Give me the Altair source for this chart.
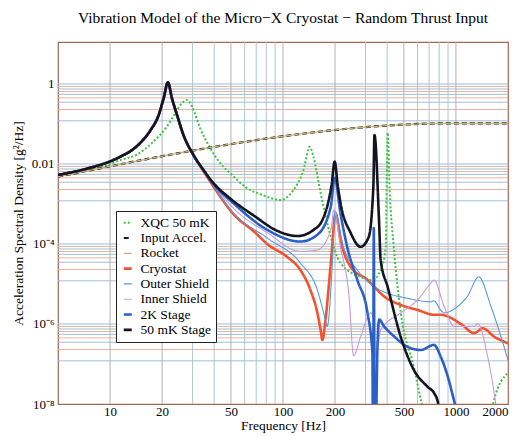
import altair as alt
import pandas as pd

# ---- series (frequency in Hz, acceleration spectral density in g^2/Hz) ----
series_names = ["XQC 50 mK", "Input Accel.", "Rocket", "Cryostat",
                "Outer Shield", "Inner Shield", "2K Stage", "50 mK Stage"]
series_colors = ["#3cc43c", "#151515", "#c4b47a", "#f2522e",
                 "#5a98d8", "#c79ade", "#2b5fc8", "#141420"]
series_dash = [[2, 2], [5, 3], [1, 0], [1, 0], [1, 0], [1, 0], [1, 0], [1, 0]]
series_width = [2.0, 2.2, 1.3, 2.6, 1.1, 1.1, 2.6, 2.6]

input_f = [5, 1000, 2000]
input_v = [0.0048, 0.104, 0.104]

rocket_f = [5, 1000, 2000]
rocket_v = [0.0048, 0.104, 0.104]

xqc_f = [5, 7.5, 10, 11.4, 14.3, 17.8, 21.3, 23.8, 26.0, 27.8, 29.8, 33.2, 38.0,
         43.4, 49.6, 60.6, 76.0, 96.7, 115, 131.5, 142.6, 150, 165, 189, 201.5,
         215, 281, 330, 367, 393, 398, 403, 414, 437, 480, 571, 627, 716, 1530,
         1661, 2000]
xqc_v = [0.0049, 0.0071, 0.0101, 0.0124, 0.0172, 0.0361, 0.0856, 0.185, 0.329,
         0.398, 0.271, 0.078, 0.0247, 0.0104, 0.00585, 0.00266, 0.00168, 0.00126,
         0.00224, 0.0071, 0.027, 0.0152, 0.00188, 1.5e-4, 6.0e-5, 3.35e-5, 1.5e-5,
         1.26e-5, 2.24e-5, 8.4e-5, 0.004, 0.06, 0.0022, 8.4e-5, 1.9e-6, 8.4e-8,
         1.26e-8, 1.3e-9, 2e-9, 1.26e-8, 6.0e-8]

cryo_f = [5, 7.46, 10, 11.4, 14.3, 17.1, 19.1, 20.4, 21.6, 22.8, 24.4, 26.6, 30.4,
          34.7, 39.7, 51.9, 69.3, 81, 106, 126, 144, 158, 165, 169, 176, 189, 201.5,
          215, 246, 308, 336, 384, 480, 600, 750, 818, 1069, 1276, 1428, 1666, 2000]
cryo_v = [0.0053, 0.0078, 0.0116, 0.015, 0.028, 0.069, 0.167, 0.435, 1.08, 0.435,
          0.165, 0.052, 0.0163, 0.0066, 0.0027, 5.5e-4, 1.9e-4, 1.0e-4, 4.7e-5,
          2.24e-5, 7.1e-6, 1.9e-6, 7.1e-7, 4.0e-7, 1.26e-6, 3.3e-5, 5.8e-4, 1.26e-4,
          2.7e-5, 1.26e-5, 8.6e-6, 4.9e-6, 3.0e-6, 2.24e-6, 1.7e-6, 1.7e-6, 1.0e-6,
          5.9e-7, 7.8e-7, 4.8e-7, 3.3e-7]

outer_f = [5, 7.46, 10, 11.4, 14.3, 17.1, 19.1, 20.4, 21.6, 22.8, 24.4, 26.6, 30.4,
           34.7, 39.7, 51.6, 81.3, 126, 158, 176, 180, 193, 200, 224, 269, 336, 401,
           523, 716, 746, 818, 856, 1018, 1165, 1354, 1596, 2000]
outer_v = [0.0053, 0.0078, 0.0116, 0.015, 0.028, 0.069, 0.167, 0.435, 1.08, 0.435,
           0.165, 0.052, 0.0164, 0.0067, 0.0028, 6.0e-4, 1.4e-4, 3.35e-5, 7.1e-6,
           1.26e-6, 8.7e-7, 3.3e-5, 6.5e-4, 8.4e-5, 2.24e-5, 8.6e-6, 5.9e-6, 4.4e-6,
           3.6e-6, 3.8e-6, 2.2e-6, 1.9e-6, 2.7e-6, 4.9e-6, 1.5e-5, 2.7e-6, 1.26e-7]

inner_f = [5, 7.46, 10, 11.4, 14.3, 17.1, 19.1, 20.4, 21.6, 22.8, 24.4, 26.6, 30.4,
           34.7, 39.7, 51.6, 81.3, 126, 158, 189, 197, 215, 241, 256, 281, 322, 333,
           344, 367, 480, 600, 716, 746, 856, 977, 1276, 1335, 1527, 1666, 1760]
inner_v = [0.0053, 0.0078, 0.0116, 0.015, 0.028, 0.069, 0.167, 0.435, 1.08, 0.435,
           0.165, 0.052, 0.0165, 0.0068, 0.003, 7.9e-4, 1.9e-4, 6.5e-5, 7.1e-5,
           2.24e-4, 7.1e-4, 8.5e-5, 4.9e-6, 1.6e-7, 4.8e-7, 1.9e-6, 1.4e-6, 1.5e-7,
           7.1e-7, 1.9e-6, 4.0e-6, 1.05e-5, 1.26e-5, 2.7e-6, 8.7e-7, 8.7e-7, 1.03e-6,
           1.5e-7, 1.8e-8, 3e-9]

k2_f = [5, 7.46, 10, 11.4, 14.3, 17.1, 19.1, 20.4, 21.6, 22.8, 24.4, 26.6, 30.4,
        34.7, 39.7, 51.6, 81.3, 126, 158, 189, 199, 215, 235, 269, 308, 329, 331.5,
        335, 339, 344, 352, 360, 382, 437, 527, 627, 746, 818, 899, 973, 1041]
k2_v = [0.0053, 0.0078, 0.0116, 0.015, 0.028, 0.069, 0.167, 0.435, 1.08, 0.435,
        0.166, 0.052, 0.0165, 0.0069, 0.0031, 1.05e-3, 2.24e-4, 1.15e-4, 1.7e-4,
        8.7e-4, 4.5e-3, 5.8e-4, 8.5e-5, 1.26e-5, 1.9e-6, 1.8e-7, 1e-10, 2.5e-4,
        1e-10, 1e-9, 3e-7, 1.3e-6, 9e-7, 5e-7, 2.66e-7, 2.24e-7, 3.0e-7, 1.5e-7,
        4.7e-8, 1.26e-8, 4e-9]

mk50_f = [5, 7.46, 10, 11.4, 14.3, 17.1, 19.1, 20.4, 21.6, 22.8, 24.4, 26.6, 30.4,
          34.7, 39.7, 48.3, 69.3, 90.5, 121, 150, 169, 181, 191, 199, 207, 215, 246,
          281, 313, 333, 338, 359, 367, 403, 480, 571, 688, 746, 787, 850]
mk50_v = [0.0053, 0.0078, 0.0116, 0.015, 0.028, 0.069, 0.168, 0.439, 1.1, 0.439,
          0.168, 0.053, 0.0168, 0.0071, 0.00329, 0.0015, 4.8e-4, 2.24e-4, 1.58e-4,
          2.24e-4, 4.0e-4, 9.4e-4, 0.003, 0.0115, 0.003, 1.06e-3, 1.9e-4, 8.5e-5,
          1.5e-4, 0.0027, 0.053, 4.0e-4, 4.0e-5, 8.4e-6, 4.7e-7, 7.1e-8, 2.66e-8,
          1.9e-8, 1.1e-8, 1e-9]

series_data = {
    "XQC 50 mK": (xqc_f, xqc_v),
    "Input Accel.": (input_f, input_v),
    "Rocket": (rocket_f, rocket_v),
    "Cryostat": (cryo_f, cryo_v),
    "Outer Shield": (outer_f, outer_v),
    "Inner Shield": (inner_f, inner_v),
    "2K Stage": (k2_f, k2_v),
    "50 mK Stage": (mk50_f, mk50_v),
}

# ---- grid lines ----
grid_decades = [1, 1e-2, 1e-4, 1e-6]
grid_multipliers = [1, 0.87, 0.75, 0.65, 0.55, 0.45, 0.35, 0.23, 0.12]
grid_colors = ["#92b9d4", "#e4ab98"]
vgrid_f = [10, 20, 30, 40, 50, 60, 70, 80, 90, 100,
           200, 300, 400, 500, 600, 700, 800, 900, 1000]
x_tick_values = [10, 20, 50, 100, 200, 500, 1000, 2000]
y_tick_values = [1e-8, 1e-6, 1e-4, 1e-2, 1]

rows = []
for name, (fs, vs) in series_data.items():
    w = series_width[series_names.index(name)]
    for i, (f, v) in enumerate(zip(fs, vs)):
        rows.append({"series": name, "f": f, "v": v, "i": i, "w": w})
df = pd.DataFrame(rows)

hrows = []
for d in grid_decades:
    for j, m in enumerate(grid_multipliers):
        hrows.append({"v": d * m, "c": grid_colors[j % 2]})
hgrid = pd.DataFrame(hrows)
vgrid = pd.DataFrame({"f": vgrid_f,
                      "c": ["#a6aaaf" if f in x_tick_values else "#a6c0d0" for f in vgrid_f]})

FONT = "Liberation Serif"
x_scale = alt.Scale(type="log", domain=[5, 2000], nice=False)
y_scale = alt.Scale(type="log", domain=[1e-8, 11.2], nice=False)

x_axis = alt.Axis(values=x_tick_values, format="d", title="Frequency [Hz]",
                  grid=False, ticks=False, domain=False, labelPadding=1,
                  labelFont=FONT, titleFont=FONT,
                  labelFontSize=13, titleFontSize=13.5, titlePadding=0,
                  titleFontWeight="normal", labelColor="black", titleColor="black")
y_axis = alt.Axis(values=y_tick_values, title="Acceleration Spectral Density [g²/Hz]",
                  labelExpr="datum.value > 0.5 ? '1' : datum.value > 0.005 ? '0.01' : "
                            "datum.value > 5e-5 ? '10⁻⁴' : datum.value > 5e-7 ? '10⁻⁶' : '10⁻⁸'",
                  grid=False, ticks=False, domain=False, labelPadding=4,
                  labelFont=FONT, titleFont=FONT,
                  labelFontSize=13, titleFontSize=13.5, titlePadding=6,
                  titleFontWeight="normal", labelColor="black", titleColor="black")

X = alt.X("f:Q", scale=x_scale, axis=x_axis)
Y = alt.Y("v:Q", scale=y_scale, axis=y_axis)

hgrid_layer = alt.Chart(hgrid).mark_rule(strokeWidth=0.9).encode(
    y=Y, stroke=alt.Stroke("c:N", scale=None))
vgrid_layer = alt.Chart(vgrid).mark_rule(strokeWidth=0.9).encode(
    x=X, stroke=alt.Stroke("c:N", scale=None))

width_expr = ("datum.value == 'Cryostat' || datum.value == '2K Stage' || "
              "datum.value == '50 mK Stage' ? 2.6 : datum.value == 'Rocket' || "
              "datum.value == 'Outer Shield' || datum.value == 'Inner Shield' ? 1.2 : 2")

legend = alt.Legend(orient="none", legendX=58, legendY=169, symbolType="stroke",
                    symbolSize=64, labelFont=FONT, labelFontSize=13.5, labelColor="black",
                    fillColor="white", strokeColor="#222222", padding=5,
                    rowPadding=0.3, labelOffset=6, symbolStrokeWidth=alt.ExprRef(expr=width_expr))

color = alt.Color("series:N", title=None,
                  scale=alt.Scale(domain=series_names, range=series_colors),
                  legend=legend)
dash = alt.StrokeDash("series:N", title=None,
                      scale=alt.Scale(domain=series_names, range=series_dash),
                      legend=legend)

base = alt.Chart(df).mark_line(clip=True, interpolate="monotone", strokeCap="butt").encode(
    x=X, y=Y, color=color, strokeDash=dash,
    strokeWidth=alt.StrokeWidth("w:Q", scale=None),
    order="i:Q",
)

line_layers = [base.transform_filter(alt.datum.series == s) for s in series_names]

chart = alt.layer(hgrid_layer, vgrid_layer, *line_layers).properties(
    width=450, height=362,
    title=alt.TitleParams("Vibration Model of the Micro−X Cryostat − Random Thrust Input",
                          font=FONT, fontSize=15.5, fontWeight="normal", color="black",
                          offset=15, anchor="middle"),
    autosize=alt.AutoSizeParams(type="none"),
    padding={"left": 50, "top": 34, "right": 5, "bottom": 30},
).configure(font=FONT).configure_legend(labelFont=FONT).configure_axis(
    labelFont=FONT, titleFont=FONT).configure_view(stroke="#a66656", strokeWidth=1.2)

chart.save("out.html", embed_options={"renderer": "svg", "actions": False})
